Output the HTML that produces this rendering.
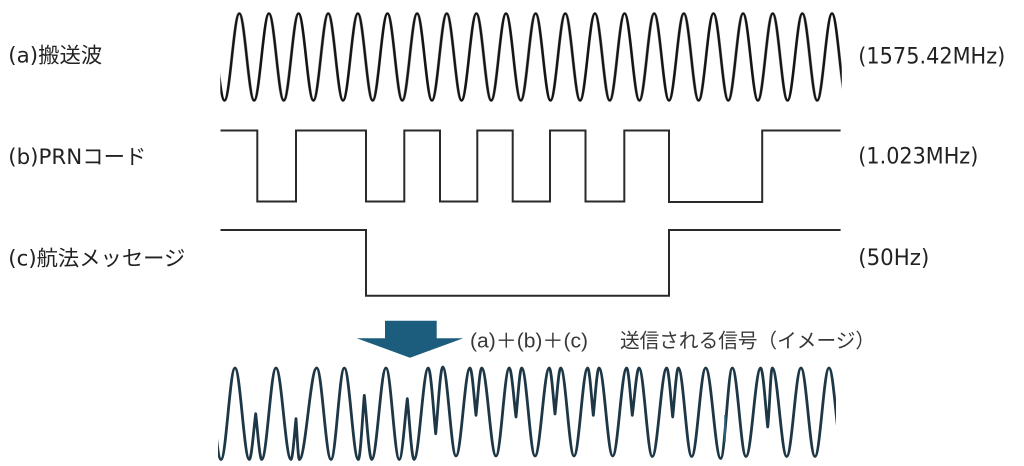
<!DOCTYPE html>
<html>
<head>
<meta charset="utf-8">
<style>
html,body{margin:0;padding:0;background:#fff}
body{width:1024px;height:466px;overflow:hidden}
svg{display:block}
.lbl{font-family:"DejaVu Sans","Noto Sans CJK JP",sans-serif;fill:#222}
.cap{font-family:"Liberation Sans","Noto Sans CJK JP",sans-serif;fill:#383838}
</style>
</head>
<body>
<svg width="1024" height="466" viewBox="0 0 1024 466" xmlns="http://www.w3.org/2000/svg">
<defs>
<pattern id="sine" patternUnits="userSpaceOnUse" x="239.3" y="0" width="29.635" height="120">
<path fill="none" stroke="#141414" stroke-width="2.6" d="M-1,13.5 L0,13.5 C5.385,13.5 9.433,100.5 14.818,100.5 C20.2,100.5 24.25,13.5 29.635,13.5 L31,13.5"/>
</pattern>
<clipPath id="clipBot"><rect x="218" y="355" width="618" height="111"/></clipPath>
</defs>
<rect x="220.3" y="0" width="621.5" height="120" fill="url(#sine)"/>
<path fill="none" stroke="#2a2a2a" stroke-width="2" d="M220.5,130.5 H257.3 V201.5 H296 V130.5 H366 V201.5 H404.3 V130.5 H440 V201.5 H477.3 V130.5 H512.7 V201.5 H550 V130.5 H585.5 V201.5 H624.3 V130.5 H669 V202 H762.2 V130.5 H840.6"/>
<path fill="none" stroke="#2a2a2a" stroke-width="2" d="M220.5,230 H366 V295.7 H669 V230 H840.6"/>
<text class="lbl" x="8.3" y="62.5" font-size="21" textLength="94" lengthAdjust="spacingAndGlyphs">(a)搬送波</text>
<text class="lbl" x="8.3" y="164" font-size="21" textLength="138" lengthAdjust="spacingAndGlyphs">(b)PRNコード</text>
<text class="lbl" x="8.3" y="265.5" font-size="21" textLength="177" lengthAdjust="spacingAndGlyphs">(c)航法メッセージ</text>
<text class="lbl" x="858.3" y="63.3" font-size="22" textLength="147" lengthAdjust="spacingAndGlyphs">(1575.42MHz)</text>
<text class="lbl" x="858.3" y="163.5" font-size="22" textLength="120" lengthAdjust="spacingAndGlyphs">(1.023MHz)</text>
<text class="lbl" x="858.3" y="265" font-size="22" textLength="71" lengthAdjust="spacingAndGlyphs">(50Hz)</text>
<polygon fill="#1c5c7c" points="385,320.7 436.7,320.7 436.7,338.3 463.3,338.3 410,357.7 356.7,338.3 385,338.3"/>
<text class="cap" x="470" y="347.5" font-size="20" textLength="118" lengthAdjust="spacingAndGlyphs">(a)＋(b)＋(c)</text>
<text class="cap" x="620" y="347.5" font-size="20" textLength="255" lengthAdjust="spacingAndGlyphs">送信される信号（イメージ）</text>
<path clip-path="url(#clipBot)" fill="none" stroke="#1e3746" stroke-width="2.8" stroke-linejoin="round" d="M207,368 C212.1,368 215.9,459.5 221,459.5 C226.1,459.5 229.9,368 235,368 C240.2,368 244.1,459.5 249.3,459.5 C251.6,459.5 254.1,425.2 255.7,413.7 C257.2,425.2 259.5,459.5 261.7,459.5 C266.9,459.5 270.8,368 276,368 C281.5,368 285.5,459.5 291,459.5 C292.8,459.5 294.8,428.9 296,418.7 C296.8,428.9 298.1,459.5 299.3,459.5 C305.6,459.5 310.4,368 316.7,368 C321.9,368 325.8,459.5 331,459.5 C335.8,459.5 339.5,368 344.3,368 C349.4,368 353.2,459.5 358.3,459.5 C360.5,459.5 362.8,411.4 364.3,395.3 C366.2,411.4 369,459.5 371.7,459.5 C376.9,459.5 380.8,368 386,368 C390.8,368 394.5,459.5 399.3,459.5 C402.2,459.5 405.3,413.9 407.3,398.7 C409,413.9 411.6,459.5 414,459.5 C419.2,459.5 423.1,368 428.3,368 C431,368 433.9,417.3 435.7,433.7 C437.5,417 440.2,367 442.7,367 C447.5,367 451.2,456 456,456 C461.1,456 464.9,368 470,368 C472.2,368 474.5,403.5 476,415.3 C477.4,403.5 479.6,368 481.7,368 C486.9,368 490.8,456 496,456 C500.8,456 504.5,368 509.3,368 C511.7,368 514.3,404.8 516,417 C517.4,404.8 519.6,368 521.7,368 C526.5,368 530.2,456 535,456 C540.2,456 544.1,368 549.3,368 C551.4,368 553.6,402.5 555,414 C556.4,402.5 558.6,368 560.7,368 C565.5,368 569.2,456 574,456 C579,456 582.7,368 587.7,368 C589.7,368 591.9,403.5 593.3,415.3 C594.7,403.5 596.9,368 599,368 C604,368 607.7,456 612.7,456 C617.8,456 621.6,368 626.7,368 C628.7,368 630.9,403.5 632.3,415.3 C634,403.5 636.6,368 639,368 C643.8,368 647.5,456.5 652.3,456.5 C657.5,456.5 661.5,368 666.7,368 C668.9,368 671.2,404.8 672.7,417 C674.1,404.8 676.3,368 678.3,368 C683.2,368 686.8,456.5 691.7,456.5 C696.8,456.5 700.6,368 705.7,368 C711.2,368 715.2,458.5 720.7,458.5 C724.9,458.5 728.1,368 732.3,368 C737.3,368 741,456.5 746,456.5 C751.4,456.5 755.3,368 760.7,368 C763.2,368 765.95,412.25 767.7,427 C769.5,412.3 770.6,368 772.3,368 C777.5,368 781.5,456.5 786.7,456.5 C791.9,456.5 795.8,368 801,368 C806.1,368 809.9,456.5 815,456.5 C820.1,456.5 823.9,368 829,368 C834.1,368 837.9,456.5 843,456.5"/>
<line x1="725" y1="415" x2="725" y2="442" stroke="#2a6a8a" stroke-width="1.6"/>
</svg>
</body>
</html>
